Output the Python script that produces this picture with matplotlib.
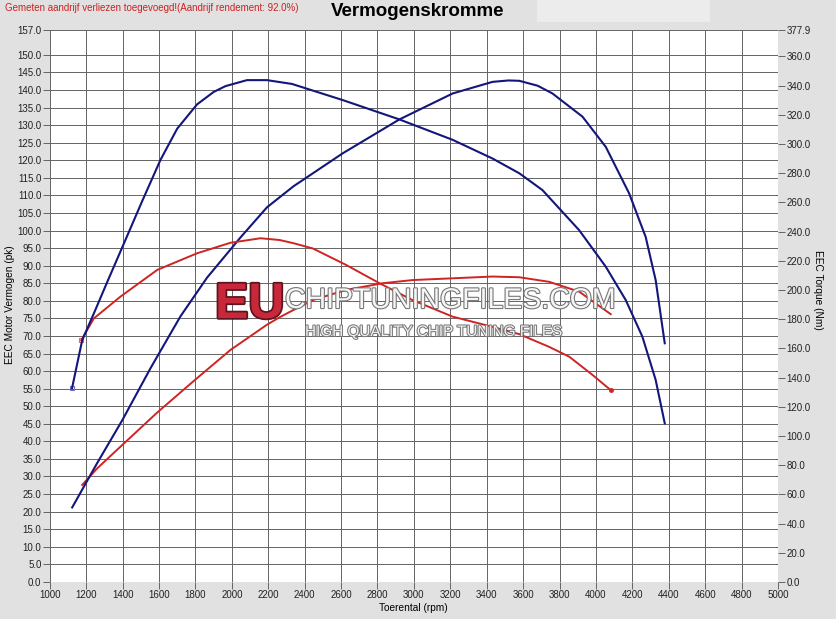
import matplotlib
matplotlib.use('Agg')
import matplotlib.pyplot as plt
import matplotlib.patheffects as pe
from matplotlib.patches import Rectangle

plt.rcParams['font.family'] = ['Liberation Sans', 'DejaVu Sans']

# ---- data ----
# Tuned torque (Nm)
rpm_tq_tuned = [1122, 1178, 1242, 1315, 1407, 1507, 1608, 1700, 1809, 1900, 1965, 2083, 2193,
                2330, 2610, 2920, 3213, 3432, 3579, 3706, 3908, 4054, 4164, 4255, 4328, 4378]
tq_tuned = [132.6, 165.6, 183.9, 205.3, 231.8, 260.7, 289.1, 310.5, 327.1, 335.6, 339.6, 343.7, 343.7,
            341.1, 330.0, 316.8, 302.8, 290.0, 279.9, 268.4, 240.9, 215.9, 193.0, 168.0, 138.4, 108.6]

# Stock torque (Nm)
rpm_tq_stock = [1173, 1242, 1389, 1590, 1809, 1992, 2157, 2262, 2339, 2445, 2628, 2811,
                2993, 3213, 3432, 3579, 3743, 3853, 3981, 4081]
tq_stock = [165.6, 180.5, 195.5, 213.7, 225.1, 232.3, 235.4, 234.2, 232.0, 228.4, 217.1, 204.6,
            193.0, 181.7, 174.7, 169.7, 161.0, 154.3, 141.8, 131.4]

# Tuned power (pk)
rpm_pw_tuned = [1123, 1260, 1398, 1553, 1718, 1864, 2047, 2193, 2339, 2610, 2920,
                3213, 3432, 3520, 3579, 3680, 3761, 3926, 4054, 4182, 4273, 4328, 4378]
pw_tuned = [21.2, 33.8, 46.0, 60.8, 75.6, 86.6, 98.0, 106.6, 112.6, 122.0, 131.6,
            139.0, 142.3, 142.7, 142.6, 141.2, 139.0, 132.4, 123.8, 110.6, 98.2, 85.9, 67.9]

# Stock power (pk)
rpm_pw_stock = [1178, 1260, 1407, 1590, 1791, 1992, 2193, 2262, 2339, 2445, 2628, 2829, 2993,
                3213, 3432, 3579, 3743, 3908, 4081]
pw_stock = [27.6, 32.3, 39.4, 48.2, 57.2, 66.0, 73.2, 75.3, 77.4, 80.2, 83.1, 85.0, 85.9,
            86.4, 86.9, 86.7, 85.4, 82.6, 76.2]

x_ticks = list(range(1000, 5001, 200))
y_left_ticks = list(range(0, 151, 5)) + [157]
y_right_ticks = list(range(0, 361, 20)) + [377.9]

title = "Vermogenskromme"
note = "Gemeten aandrijf verliezen toegevoegd!(Aandrijf rendement: 92.0%)"

# ---- figure ----
BG = '#e1e1e1'
BLUE = '#13167a'
RED = '#cf2424'
GRID = '#646464'

fig = plt.figure(figsize=(8.37, 6.19), dpi=100, facecolor=BG)
fig.patches.append(Rectangle((537 / 837, 1 - 22 / 619), 173 / 837, 22 / 619,
                             transform=fig.transFigure, facecolor='#ececec',
                             edgecolor='none', zorder=0))

ax = fig.add_axes([0.0595, 0.0599, 0.8700, 0.8913])
ax.set_facecolor('white')
ax.set_xlim(1000, 5000)
ax.set_ylim(0, 157)
ax.set_xticks(x_ticks)
ax.set_xticklabels([str(v) for v in x_ticks])
ax.set_yticks(y_left_ticks)
ax.set_yticklabels([f"{v:.1f}" for v in y_left_ticks])
ax.grid(True, color=GRID, linewidth=0.7)
ax.set_axisbelow(True)
for s in ax.spines.values():
    s.set_visible(False)
ax.tick_params(axis='both', direction='out', length=5, width=0.7, color=GRID,
               labelsize=7, labelcolor='#222222', pad=1)

ax2 = ax.twinx()
ax2.set_ylim(0, 377.9)
ax2.set_yticks(y_right_ticks)
ax2.set_yticklabels([f"{v:.1f}" for v in y_right_ticks])
for s in ax2.spines.values():
    s.set_visible(False)
ax2.tick_params(axis='y', direction='out', length=5, width=0.7, color=GRID,
                labelsize=7, labelcolor='#222222', pad=1)

ax.plot(rpm_pw_stock, pw_stock, color=RED, lw=1.4, zorder=3, solid_joinstyle='round')
ax.plot(rpm_pw_tuned, pw_tuned, color=BLUE, lw=1.5, zorder=3, solid_joinstyle='round')
ax2.plot(rpm_tq_stock, tq_stock, color=RED, lw=1.4, zorder=3, solid_joinstyle='round')
ax2.plot(rpm_tq_tuned, tq_tuned, color=BLUE, lw=1.5, zorder=3, solid_joinstyle='round')
ax2.plot(rpm_tq_tuned[0], tq_tuned[0], marker='s', ms=3, mfc='none', mec='#7070c0', mew=0.8)
ax2.plot(rpm_tq_stock[0], tq_stock[0], marker='s', ms=3, mfc='none', mec='#e06080', mew=0.8)
ax2.plot(rpm_tq_stock[-1], tq_stock[-1], marker='o', ms=2.5, mfc=RED, mec=RED)

ax.set_xlabel("Toerental (rpm)", fontsize=7.3)
ax.set_ylabel("EEC Motor Vermogen (pk)", fontsize=7.3)
ax2.set_ylabel("EEC Torque (Nm)", fontsize=7.3, rotation=-90, va='center')
ax.xaxis.set_label_coords(0.499, -0.0383)
ax.yaxis.set_label_coords(-0.0478, 0.502)
ax2.yaxis.set_label_coords(1.055, 0.529)

fig.text(418 / 837, 1 - 11 / 619, title, ha='center', va='center',
         fontsize=13.5, fontweight='bold', color='black')
fig.text(5 / 837, 1 - 8 / 619, note, ha='left', va='center', fontsize=7.0, color='#d02020')

# watermark
fig.text(215 / 837, 1 - 318 / 619, "EU", fontsize=36, fontweight='bold', color='#c8283a',
         ha='left', va='baseline', zorder=10,
         path_effects=[pe.withStroke(linewidth=2.5, foreground='#5a1520')])
fig.text(285 / 837, 1 - 308 / 619, "CHIPTUNINGFILES.COM", fontsize=20.5, color='#f6f6f6',
         ha='left', va='baseline', zorder=10,
         path_effects=[pe.withStroke(linewidth=1.6, foreground='#777777')])
fig.text(305 / 837, 1 - 336 / 619, "HIGH QUALITY CHIP TUNING FILES", fontsize=11,
         color='#f2f2f2', ha='left', va='baseline', zorder=10,
         path_effects=[pe.withStroke(linewidth=1.5, foreground='#777777')])

fig.savefig('out.png', dpi=100, facecolor=BG)
